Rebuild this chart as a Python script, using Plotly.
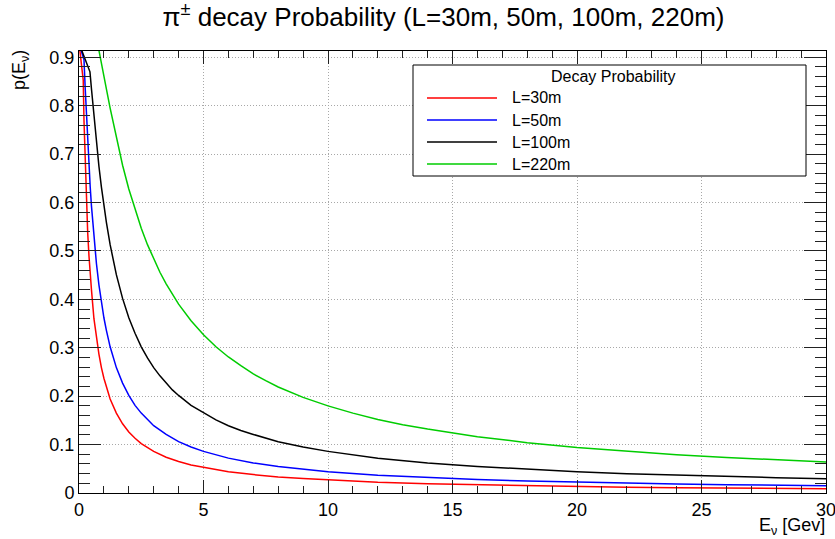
import plotly.graph_objects as go

# ---------------- data ----------------
e_red = [0.0, 0.17, 0.2, 0.25, 0.3, 0.35, 0.4, 0.45, 0.5, 0.6, 0.7, 0.8, 0.9, 1.0, 1.25, 1.5, 1.75,
         2.0, 2.25, 2.5, 3.0, 3.5, 4.0, 4.5, 5.0, 6.0, 7.0, 8.0, 9.0, 10.0, 12.0, 14.0, 16.0, 18.0,
         20.0, 22.0, 24.0, 26.0, 28.0, 30.0]
p_red = [0.93, 0.853, 0.77, 0.68, 0.60, 0.537, 0.49, 0.451, 0.42, 0.36, 0.320, 0.287, 0.259, 0.237,
         0.194, 0.165, 0.143, 0.126, 0.113, 0.102, 0.086, 0.074, 0.065, 0.058, 0.053, 0.044, 0.038,
         0.033, 0.030, 0.027, 0.022, 0.019, 0.017, 0.015, 0.013, 0.012, 0.011, 0.0103, 0.0096, 0.009]

e_blue = [0.0, 0.2, 0.25, 0.3, 0.35, 0.4, 0.45, 0.5, 0.6, 0.7, 0.8, 0.9, 1.0, 1.1, 1.25, 1.5, 1.75,
          2.0, 2.25, 2.5, 2.75, 3.0, 3.5, 4.0, 4.5, 5.0, 6.0, 7.0, 8.0, 9.0, 10.0, 12.0, 14.0, 16.0,
          18.0, 20.0, 22.0, 24.0, 26.0, 28.0, 30.0]
p_blue = [0.928, 0.895, 0.835, 0.777, 0.7235, 0.675, 0.632, 0.593, 0.528, 0.474, 0.430, 0.3935, 0.362,
          0.336, 0.302, 0.259, 0.227, 0.2015, 0.181, 0.165, 0.151, 0.139, 0.121, 0.106, 0.095, 0.086,
          0.072, 0.062, 0.0547, 0.0488, 0.044, 0.0368, 0.0316, 0.0277, 0.0247, 0.0222, 0.0202,
          0.0186, 0.0172, 0.0159, 0.0149]

e_black = [0.0, 0.44, 0.5, 0.6, 0.7, 0.8, 0.9, 1.0, 1.1, 1.25, 1.4, 1.5, 1.75, 2.0, 2.25, 2.5, 2.75,
           3.0, 3.25, 3.5, 3.75, 4.0, 4.5, 5.0, 5.5, 6.0, 6.5, 7.0, 7.5, 8.0, 9.0, 10.0, 12.0, 14.0,
           16.0, 18.0, 20.0, 22.0, 24.0, 26.0, 28.0, 30.0]
p_black = [0.929, 0.87, 0.835, 0.777, 0.7235, 0.675, 0.632, 0.593, 0.559, 0.513, 0.474, 0.451, 0.402,
           0.362, 0.330, 0.302, 0.279, 0.259, 0.242, 0.227, 0.213, 0.2015, 0.181, 0.166, 0.151,
           0.139, 0.129, 0.121, 0.113, 0.106, 0.095, 0.086, 0.072, 0.062, 0.0547, 0.0488, 0.044,
           0.040, 0.0368, 0.034, 0.0316, 0.0296]

e_green = [0.7, 0.8, 1.0, 1.125, 1.25, 1.5, 1.75, 2.0, 2.25, 2.5, 2.75, 3.0, 3.25, 3.5, 3.75, 4.0,
           4.5, 5.0, 5.5, 6.0, 6.5, 7.0, 7.5, 8.0, 9.0, 10.0, 11.0, 12.0, 13.0, 14.0, 16.0, 18.0,
           20.0, 22.0, 24.0, 26.0, 28.0, 30.0]
p_green = [0.941, 0.916, 0.862, 0.828, 0.795, 0.733, 0.677, 0.628, 0.585, 0.547, 0.513, 0.483, 0.456,
           0.432, 0.410, 0.390, 0.356, 0.327, 0.302, 0.281, 0.263, 0.246, 0.232, 0.219, 0.1975,
           0.180, 0.165, 0.152, 0.141, 0.132, 0.1164, 0.104, 0.094, 0.086, 0.079, 0.0734, 0.0683,
           0.064]

series_names = ["L=30m", "L=50m", "L=100m", "L=220m"]
series_colors = ["#ff0000", "#0000ff", "#000000", "#00cc00"]
x_ticks = [0, 5, 10, 15, 20, 25, 30]
y_ticks = [0, 0.1, 0.2, 0.3, 0.4, 0.5, 0.6, 0.7, 0.8, 0.9]
y_tick_text = ["0", "0.1", "0.2", "0.3", "0.4", "0.5", "0.6", "0.7", "0.8", "0.9"]

title_text = "π<sup>±</sup> decay Probability (L=30m, 50m, 100m, 220m)"
legend_title = "Decay Probability"

# ---------------- layout geometry ----------------
W, H = 835, 539
L_M, R_M, T_M, B_M = 79, 9, 51, 46
PW, PH = W - L_M - R_M, H - T_M - B_M
FONT = "Liberation Sans, Arial, Helvetica, sans-serif"


def px(xp):
    return (xp - L_M) / PW


def py(yp):
    return (H - B_M - yp) / PH


fig = go.Figure()
all_x = [e_red, e_blue, e_black, e_green]
all_y = [p_red, p_blue, p_black, p_green]
for xs, ys, name, col in zip(all_x, all_y, series_names, series_colors):
    fig.add_trace(go.Scatter(x=xs, y=ys, mode="lines", name=name,
                             line=dict(color=col, width=1.5), showlegend=False))

axis_common = dict(
    showline=True, linecolor="black", linewidth=1, mirror="allticks",
    ticks="inside", tickcolor="#222", tickwidth=1,
    showgrid=True, gridcolor="#a8a8a8", griddash="1px,2px", gridwidth=1,
    zeroline=False, tickfont=dict(family=FONT, size=18, color="black"),
    ticklabeloverflow="allow", automargin=False,
)

fig.update_xaxes(range=[0, 30], tickvals=x_ticks, ticklen=13,
                 minor=dict(dtick=1, ticks="inside", ticklen=7, tickcolor="#222", showgrid=False),
                 **axis_common)
fig.update_yaxes(range=[0, 0.913], tickvals=y_ticks, ticktext=y_tick_text, ticklen=22,
                 minor=dict(dtick=0.02, ticks="inside", ticklen=11, tickcolor="#222", showgrid=False),
                 **axis_common)

shapes = []
annotations = []

# custom legend box
lx0, lx1, ly0, ly1 = 413, 806, 65, 176
shapes.append(dict(type="rect", xref="paper", yref="paper", x0=px(lx0), x1=px(lx1),
                   y0=py(ly1), y1=py(ly0), line=dict(color="black", width=1), fillcolor="white",
                   layer="above"))
annotations.append(dict(text=legend_title, xref="paper", yref="paper", x=px(613), y=py(76),
                        xanchor="center", yanchor="middle", showarrow=False,
                        font=dict(family=FONT, size=16, color="black")))
entry_y = [98, 120, 142, 164]
for name, col, ey in zip(series_names, series_colors, entry_y):
    shapes.append(dict(type="line", xref="paper", yref="paper", x0=px(427), x1=px(497),
                       y0=py(ey), y1=py(ey), line=dict(color=col, width=1.5), layer="above"))
    annotations.append(dict(text=name, xref="paper", yref="paper", x=px(510), y=py(ey),
                            xanchor="left", yanchor="middle", showarrow=False,
                            font=dict(family=FONT, size=16, color="black")))

# axis titles
annotations.append(dict(text="E<sub>ν</sub> [Gev]", xref="paper", yref="paper", x=px(827), y=py(513),
                        xanchor="right", yanchor="top", showarrow=False,
                        font=dict(family=FONT, size=18, color="black")))
annotations.append(dict(text="p(E<sub>ν</sub>)", xref="paper", yref="paper", x=px(20), y=py(48),
                        xanchor="center", yanchor="top", textangle=-90, showarrow=False,
                        font=dict(family=FONT, size=18, color="black")))

fig.update_layout(
    width=W, height=H,
    margin=dict(l=L_M, r=R_M, t=T_M, b=B_M, autoexpand=False),
    paper_bgcolor="white", plot_bgcolor="white",
    title=dict(text=title_text, x=443.5 / W, xanchor="center", xref="container",
               y=1 - 17 / H, yanchor="middle", yref="container",
               font=dict(family=FONT, size=26, color="black")),
    shapes=shapes, annotations=annotations,
    showlegend=False,
)

fig.write_html("out.html")
